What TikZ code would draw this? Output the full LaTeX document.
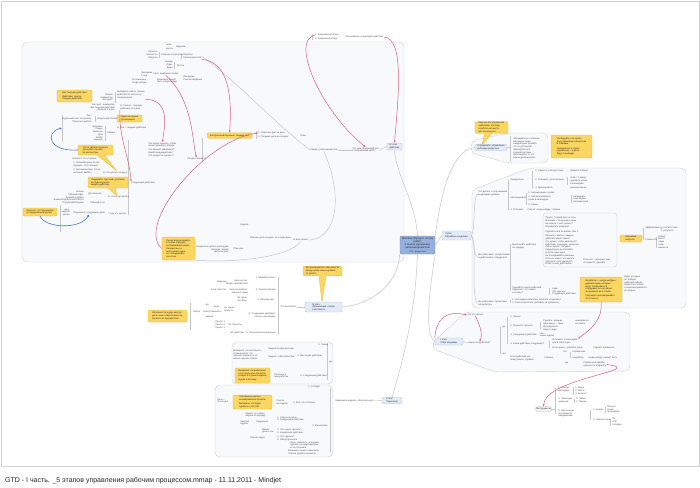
\documentclass[tikz,border=0pt]{standalone}
\usepackage{fontspec}
\setmainfont{Liberation Sans}
\usetikzlibrary{positioning, arrows.meta, shapes, shapes.callouts}
\definecolor{bndfill}{RGB}{248,249,251}
\definecolor{bnddraw}{RGB}{202,207,216}
\definecolor{notefill}{RGB}{251,214,96}
\definecolor{notedraw}{RGB}{232,182,62}
\definecolor{topicfill}{RGB}{226,235,247}
\definecolor{topicdraw}{RGB}{172,192,222}
\definecolor{ctrfill}{RGB}{150,176,222}
\definecolor{ctrdraw}{RGB}{108,136,190}
\definecolor{relred}{RGB}{214,96,124}
\definecolor{relblue}{RGB}{70,118,210}
\definecolor{linegray}{RGB}{198,198,198}
\definecolor{textgray}{RGB}{78,78,78}
\newcommand{\mm}{\fontsize{2.3}{2.75}\selectfont}
\pgfdeclarelayer{back}
\pgfsetlayers{back,main}

\begin{document}
\begin{tikzpicture}[x=1pt, y=-1pt,
  lbl/.style={font=\mm, text=textgray, inner sep=0.2pt, anchor=west, align=left},
  lblr/.style={lbl, anchor=east, align=right},
  callnote/.style={rectangle callout, draw=notedraw, fill=notefill, line width=0.3pt, rounded corners=1pt, font=\mm, text=black!85, align=left, inner sep=0.8pt},
  notebox/.style={rectangle, draw=notedraw, fill=notefill, line width=0.3pt, rounded corners=1pt, font=\mm, text=black!85, align=left, inner sep=0.8pt},
  topic/.style={rectangle, rounded corners=1.2pt, draw=topicdraw, fill=topicfill, line width=0.3pt, font=\mm, text=black!85, align=left, inner sep=0.6pt},
  ctrbox/.style={rectangle, rounded corners=1.5pt, draw=ctrdraw, fill=ctrfill, line width=0.4pt, font=\fontsize{2.6}{3}\selectfont, text=black!85, align=center, inner sep=0.8pt},
  bnd/.style={draw=bnddraw, fill=bndfill, line width=0.4pt, rounded corners=5pt},
  conn/.style={draw=linegray, line width=0.5pt},
  spine/.style={draw=linegray, line width=0.3pt},
  relr/.style={draw=relred, line width=0.5pt, -{Latex[length=2.2pt,width=2pt]}},
  relb/.style={draw=relblue, line width=0.6pt, -{Latex[length=2.4pt,width=2.2pt]}}]
\useasboundingbox (0,0) rectangle (700,487);
\begin{pgfonlayer}{back}
 \fill[white] (0,0) rectangle (700,487);
 \draw[black!18, line width=0.5pt] (1,1) rectangle (699,466);
 \draw[bnd] (22,42) rectangle (404,262);
 \draw[bnd] (471,141) -- (508,133) -- (548,133) -- (548,163) -- (508,163) -- (471,153) -- cycle;
 \draw[bnd] (472,190) -- (530,168) -- (686,168) -- (686,308) -- (472,308) -- cycle;
 \draw[bnd] (433,342) -- (466,312) -- (630,312) -- (630,371) -- (495,372) -- (433,349) -- cycle;
 \draw[bnd] (232,342) rectangle (333,384);
 \draw[bnd] (215,385) rectangle (333,457);
 \draw[spine, rounded corners=3pt] (543,213) rectangle (617,267);
\end{pgfonlayer}

\node[ctrbox, minimum width=35pt, minimum height=18pt] (ctr) at (417.5,245) {Workflow (Процесс потока\\работ)\\5 этапов управления\\рабочим процессом\\[0.6pt]{\fontsize{1.8}{2}\selectfont GTD – Дэвид Аллен}};

\node[lbl] (a1) at (166,45) {цели};
\node[lbl] (a2) at (166,48.5) {мечты};
\node[lbl] (a3) at (176,47) {Видение};
\node[lblr] (a4) at (158,55) {Проекты\\Контексты\\Ресурсы};
\node[lbl] (a5) at (161,55) {Списки по проектам};
\node[lbl] (a6) at (183,56.5) {Проекты\\Списки проектов};
\node[lblr] (a7) at (173,65) {Звонки\\Офис\\Дома};
\node[lbl] (a8) at (177,66) {Места};
\node[lbl] (a9) at (141,74.5) {Ожидание\\1 нед.};
\node[lbl] (a10) at (153,74) {Срок: ожидание ответа};
\node[lbl] (a11) at (183,78.5) {Ожидание\\Список ожидания};
\node[lbl] (a12) at (132,81.5) {Отложенные\\Когда-нибудь};
\node[lbl] (a13) at (157,81) {Возможно, может\\быть когда-нибудь};
\node[notebox, minimum width=35pt, minimum height=12pt] (n1) at (74.5,96) {Все текущие действия\\[1pt]Действия: список\\текущих действий};
\node[lblr] (a14) at (113,97.5) {Звонки\\Компьютер\\Интернет};
\node[lbl] (a15) at (117,95) {Выберите список: звонки,\\действия по контексту,\\текущие дела};
\node[lblr] (a16) at (115,107.5) {Контекст: компьютер\\Все текущие действия\\Дела на 1-2 дня};
\node[lbl] (a17) at (120,107.5) {Б. Список – текущие\\действия (1-2 дня)};
\node[notebox, minimum width=25pt, minimum height=7pt] (n2) at (129.5,118.5) {Здесь не нужна\\детализация};
\node[lblr] (a18) at (92,119) {Лист\\Отдельный лист по проекту\\Проекты в работе};
\node[lbl] (a19) at (97,119) {Отдельный список};
\node[lblr] (a20) at (103,133.5) {Здоровье\\Семья\\Финансы\\Дом\\Хобби\\Карьера};
\node[lbl] (a21) at (107,133) {Сферы};
\node[lbl] (a22) at (117,128) {В. Всё – текущие действия};
\node[callnote, callout absolute pointer={(117,171)}, minimum width=35pt, minimum height=10pt] (n3) at (95.5,150) {Часто удобнее держать\\несколько списков\\по контекстам};
\node[lbl] (a23) at (72,159) {Контекст: по ситуации};
\node[lbl] (a24) at (73,164.5) {1. Звонки/встречи после\\поездки – 8-10 звонков};
\node[lbl] (a25) at (73,171.5) {2. На компьютере: почта,\\интернет, файлы};
\node[lbl] (a26) at (103,173) {В. Что делать сегодня};
\node[callnote, callout absolute pointer={(117,196)}, minimum width=40pt, minimum height=11pt] (n4) at (108,182.5) {Подумайте, при каких условиях\\вы будете делать\\каждое действие};
\node[lblr] (a27) at (84,197.5) {Звонки\\Рабочий офис\\Дома/вне офиса\\Компьютер/Интернет/Почта\\Поручения/Покупки};
\node[lbl] (a28) at (88,194) {Для звонков};
\node[lbl] (a29) at (90,203) {Рабочий стол};
\node[lbl] (a30) at (108,197) {Б. Что и где делать};
\node[lbl] (a31) at (108,214) {Г. Где что делать};
\node[notebox, minimum width=34pt, minimum height=8pt] (n5) at (40,212) {Контекст: по поручениям\\и определённым делам};
\node[lblr] (a32) at (70,212.5) {день\\неделя\\месяц};
\node[lbl] (a33) at (73,213) {Поручения: следующие дела};
\node[lbl] (a34) at (131,183) {Следующие действия};
\node[lbl] (a35) at (148,145) {Что нужно сделать, чтобы\\проект двигался вперёд};
\node[lbl] (a36) at (148,153) {Что мешает завершить?\\Какой следующий шаг?\\Что конкретно сделать?};
\node[lbl] (a37) at (187,159) {Ресурсы проекта};
\node[lbl] (a38) at (310,150) {Рядом с рабочим местом};
\node[lbl] (a39) at (352,150) {Что ваш следующий шаг\\в направлении цели?};
\node[topic, minimum width=15pt, minimum height=7pt] (iv) at (394.5,146.5) {IV этап\\действия};
\node[lbl] (a40) at (240,225) {Неделя};
\node[lbl] (a41) at (250,238) {Важные дела на день: не в один день};
\node[lbl] (a42) at (293,240) {В. Без сроков};
\node[lbl] (a43) at (233,249) {План дня};
\node[lblr] (a44) at (229,249.5) {Конкретные дела в календаре\\Встречи, звонки\\Дела на день};
\node[notebox, minimum width=33pt, minimum height=23pt] (n6) at (178.5,248.5) {Лучше всегда держать\\в голове пару дел\\на ближайшее время.\\Неприятные и\\неотложные дела\\не откладывайте\\на потом};
\node[notebox, minimum width=45pt, minimum height=5.5pt] (n7) at (229.5,135.5) {Контрольный перечень текущих дел};
\node[lbl] (a45) at (258,133) {1. Перечень дел на день};
\node[lbl] (a46) at (258,137) {2. Текущие дела на сегодня};
\node[lbl] (a47) at (300,136) {План};
\node[lbl] (a48) at (315,35) {1. Ежедневный обзор};
\node[lbl] (a49) at (315,39) {2. Недельный обзор};
\node[lbl] (a50) at (345,37) {Как выбирать следующие действия};

\node[callnote, callout absolute pointer={(482,145)}, minimum width=33pt, minimum height=11pt] (r1) at (491.5,127.5) {Обычно это управление\\«работой», поэтому\\в работе нет места\\для личных дел};
\node[topic, minimum width=32pt, minimum height=6pt] (opr) at (491,147.5) {Определите: управление\\рабочим процессом};
\node[lbl] (r2) at (513,148.5) {Обращайтесь к спискам\\как можно чаще\\Каждый день делайте\\что-то для целей\\Фиксируйте всё\\в одной системе\\Делегируйте то, что\\можно делегировать};
\node[notebox, minimum width=41pt, minimum height=23pt] (r3) at (571.5,146.5) {Исследуйте, что нужно\\для управления процессом\\и планами.\\[1.5pt]Определите 5 этапов\\управления – и дела\\будут в порядке};
\node[topic, minimum width=29pt, minimum height=9pt] (ii) at (456.5,235.5) {II этап\\Обработка входящих};
\node[lbl] (r4) at (478,193.5) {Что делать с полученными\\входящими делами};
\node[lbl] (r5) at (510,180) {Немедленно};
\node[lbl] (r6) at (535,171) {1. Сделать, если до 2 мин};
\node[lbl] (r7) at (570,171) {правило 2 минут};
\node[lbl] (r8) at (535,180) {2. Отложить, если больше};
\node[lbl] (r9) at (570,181) {если > 2 минут\\сделайте позже\\в календаре};
\node[lbl] (r10) at (535,188) {3. Делегировать};
\node[lbl] (r11) at (570,188.5) {делегирование};
\node[lbl] (r12) at (510,198) {Запланировать};
\node[lbl] (r13) at (528,193) {1. Напоминание о сроке};
\node[lbl] (r14) at (528,198.5) {2. Запланированные\\сроки в календаре};
\node[lbl] (r15) at (528,205) {3. Сроки};
\node[lbl] (r16) at (573,199) {Календарь\\Список дел\\Напоминания};
\node[lbl] (r17) at (510,210) {4. Отложить};
\node[lbl] (r18) at (527,210) {Список: когда-нибудь, справка};
\node[lbl] (r19) at (545,222.5) {Проект: первый шаг не ясен\\Все шаги – по одному в день\\Не знаете, с чего начать?\\Определите результат};
\node[lbl] (r20) at (545,232) {Сделайте шаг за шагом: Шаг 1};
\node[lbl] (r21) at (545,246) {Начните с малого: каждое\\действие имеет смысл\\Что нужно, чтобы двигаться?\\Действие: позвонить, написать,\\найти, купить, обсудить\\Каждый день выполняйте\\хотя бы одно дело\\Не откладывайте решение};
\node[lbl] (r22) at (545,261.5) {Если не знаете, что делать,\\спросите: «что дальше?»\\Ответ станет действием};
\node[lbl] (r23) at (583,261.5) {Если нет – решение ещё\\не принято, думайте};
\node[lbl] (r24) at (512,246.5) {Выполняйте действия\\по порядку};
\node[lbl] (r25) at (478,256.5) {Мы работаем с результатами\\и действиями: определите};
\node[notebox, minimum width=22pt, minimum height=7pt] (r26) at (631,238.5) {Ключевые\\вопросы};
\node[lbl] (r27) at (645,228) {Эффективность};
\node[lbl] (r28) at (645,240) {Сложность};
\node[lbl] (r29) at (663,229.5) {соответствие\\результат};
\node[lbl] (r30) at (658,242) {время\\место\\люди\\силы\\важность};
\node[lbl] (r31) at (512,290) {Сделайте список действий.\\Результат: что значит\\«готово»?};
\node[lbl] (r32) at (552,291.5) {Куда\\Это сделать\\Следующее действие};
\node[notebox, minimum width=42pt, minimum height=25pt] (r33) at (601,289.5) {Инкубатор – «когда-нибудь»:\\держите идеи, которые\\могут понадобиться\\в будущем, но не сейчас.\\Не держите их в голове.\\[1pt]Регулярно просматривайте\\этот список};
\node[lbl] (r34) at (624,284) {Идеи, которые\\не требуют\\действий сейчас,\\хранятся в списке\\и пересматриваются\\регулярно};
\node[lbl] (r35) at (478,303.5) {Мы работаем с проектами:\\«Инкубатор»};
\node[lbl] (r36) at (512,301.5) {1. Последнее действие: отметьте «Сделано»\\2. Список проектов: добавьте «в процессе»};

\node[topic, minimum width=28pt, minimum height=7pt] (inode) at (449,341.5) {I этап\\Сбор входящих};
\node[lbl] (c1) at (467,315) {Что это такое?};
\node[lbl] (c2) at (468,343) {Нужно ли действие?};
\node[lbl] (c3) at (502,327) {да};
\node[lbl] (c4) at (510,317) {1. Проект};
\node[lbl] (c5) at (510,326) {2. Результат проекта};
\node[lbl] (c6) at (510,335) {3. Следующее действие};
\node[lbl] (c7) at (543,322.5) {Сделать: меньше\\двух минут – сразу};
\node[lbl] (c8) at (543,328.5) {Делегировать:\\кому-то ещё};
\node[lbl] (c9) at (575,322.5) {немедленно\\отложить};
\node[lbl] (c10) at (540,335) {Вы –\\ваша задача};
\node[lbl] (c11) at (510,344) {4. Какое действие следующее?};
\node[lbl] (c12) at (552,341.5) {Отложите: в календарь\\или в список дел};
\node[lbl] (c13) at (552,347.5) {Если нужно – делайте сразу};
\node[lbl] (c14) at (593,347.5) {Сделать правильно};
\node[lbl] (c15) at (502,354) {нет};
\node[lbl] (c16) at (510,358.5) {Если действий нет:\\неактуально, справка};
\node[lbl] (c17) at (544,358) {Корзина};
\node[lbl] (c18) at (563,352) {нет};
\node[lbl] (c19) at (572,352) {Справочная};
\node[lbl] (c20) at (572,357.5) {Инкубатор};
\node[lbl] (c21) at (588,357.5) {Когда-нибудь / может быть};
\node[lbl] (c22) at (565,363) {да};
\node[lbl] (c23) at (583,364.5) {Справочные файлы:\\храните по алфавиту};
\node[topic, fill=black!4, draw=black!28, minimum width=13pt, minimum height=4.5pt] (instr) at (543.5,409) {Инструменты};
\node[lbl] (d1) at (558,389.5) {1. Списки\\календарь};
\node[lbl] (d2) at (575,390.5) {1. Ящик\\2. Листы\\3. Блокнот};
\node[lbl] (d3) at (558,400.5) {2. Папки для\\хранения};
\node[lbl] (d4) at (576,400.5) {1. Папки\\2. Ящики};
\node[lbl] (d5) at (558,413.5) {3. Настольные\\инструменты,\\ежедневники};
\node[lbl] (d6) at (593,410) {1. Бумага};
\node[lbl] (d7) at (607,409.5) {блокнот\\ручка\\органайзер};
\node[lbl] (d8) at (593,420) {2. Электронные};
\node[lbl] (d9) at (612,422) {ПК\\КПК\\телефон};

\node[callnote, callout absolute pointer={(322,302)}, minimum width=39pt, minimum height=8pt] (e1) at (322.5,271) {Как распределить обязанности\\между проектами и делами\\по работе};
\node[topic, minimum width=37pt, minimum height=10pt] (iii) at (323.5,307) {III этап\\Организация: списки\\и контексты};
\node[lbl] (e2) at (280,307) {Что выполнить};
\node[lblr] (e3) at (276,278) {1. Общий контекст};
\node[lblr] (e4) at (276,290) {2. Уровень обзора};
\node[lblr] (e5) at (274,300) {3. Обсуждение};
\node[lblr] (e6) at (276,315.5) {4. Следующие действия:\\список и календарь};
\node[lblr] (e7) at (276,333) {5. Окончательное решение};
\node[lblr] (e8) at (248,282.5) {Цели на год:\\общие направления};
\node[lblr] (e9) at (248,291.5) {Цели на квартал:\\задачи и сроки};
\node[lblr] (e10) at (227,282) {Видение};
\node[lblr] (e11) at (227,290) {Зона ответств.};
\node[lbl] (e12) at (237,299.5) {3d. Цели\\на обзор};
\node[lbl] (e13) at (193,312) {Обзор};
\node[lbl] (e14) at (205,305) {год};
\node[lbl] (e15) at (213,307) {Цели};
\node[lbl] (e16) at (203,312) {Ответственность};
\node[lbl] (e17) at (224,309.5) {2a. Цели\\проекта};
\node[lbl] (e18) at (205,317) {Задачи};
\node[lbl] (e19) at (215,325) {Проект 1\\Проект 2\\Проект 3};
\node[lbl] (e20) at (228,325) {3d. Проекты};
\node[lbl] (e21) at (230,333) {4d. Действия};
\node[notebox, minimum width=39pt, minimum height=12pt] (e22) at (167.5,316) {Обязанности в двух местах:\\цели, зоны ответственности,\\проекты по приоритетам};

\node[lbl] (f1) at (318,345) {1. Планы};
\node[lbl] (f2) at (233,355) {Выберите, что выполнить,\\затем решите, что\\сделать сначала, и что\\можно сделать сейчас};
\node[lbl] (f3) at (268,349) {Задачи по приоритетам};
\node[lbl] (f4) at (268,357) {Задачи – обязательства};
\node[lbl] (f5) at (297,356) {2. Места для действий};
\node[lbl] (f6) at (329,362) {да};
\node[notebox, minimum width=35pt, minimum height=15pt] (f7) at (252.5,375.5) {Внимание: планирование\\и контроль всех проектов\\и задач 1-2 раза в неделю\\[1pt]Лучше в пятницу};
\node[lbl] (f8) at (274,376) {По плану и\\приоритетам};
\node[lbl] (f9) at (300,376) {3. Следующие действия};

\node[lbl] (g1) at (308,387) {1. Сегодня};
\node[notebox, minimum width=39pt, minimum height=14pt] (g2) at (252.5,402) {Отложенные дела и\\незавершённые проекты\\[1pt]Выберите, что будет\\сделано в этот раз};
\node[lbl] (g3) at (276,402.5) {Список\\на неделю};
\node[lbl] (g4) at (293,403) {2. Всё, что осталось};
\node[lbl] (g5) at (217,401) {Цель –\\после дня};
\node[lbl] (g6) at (245,415) {Проект: по списку\\Задачи по порядку};
\node[lbl] (g7) at (240,423) {Занятия\\задачи};
\node[lbl] (g8) at (256,422) {Ежедневно};
\node[lbl] (g9) at (277,419) {1. Список на день\\2. Следующее действие};
\node[lbl] (g10) at (312,426) {3. Физические};
\node[lbl] (g11) at (262,431) {Время\\день и час};
\node[lbl] (g12) at (277,431.5) {1. Что нужно сделать?\\2. Конкретное действие};
\node[lbl] (g13) at (250,438) {Анализ задач};
\node[lbl] (g14) at (277,438.5) {1. Что сделать?\\2. Обзор проектов};
\node[lbl] (g15) at (290,445) {Цель: наметить, что нужно\\сделать в следующий раз\\и что отложить};
\node[lbl] (g16) at (288,452.5) {Возможно, нужен пересмотр\\планов, целей и проектов};
\node[lbl] (g17) at (335,401) {Завершите неделю: обзор всех дел};
\node[topic, minimum width=20pt, minimum height=6pt] (vnode) at (392,400.5) {V этап\\Пересмотр};

\node[anchor=west, font=\fontsize{7}{8}\selectfont, text=black!85, inner sep=0pt] (footer) at (5,481) {GTD - I часть. \_5 этапов управления рабочим процессом.mmap - 11.11.2011 - Mindjet};

\begin{pgfonlayer}{back}
 \draw[conn] (ctr.north) .. controls (415,200) and (396,175) .. (iv.south);
 \draw[conn] (ctr.north east) .. controls (440,200) and (450,150) .. (opr.west);
 \draw[conn] (ctr.east) -- (ii.west);
 \draw[conn] (ctr.south east) .. controls (428,300) and (425,335) .. (inode.west);
 \draw[conn] (ctr.south) .. controls (415,320) and (400,370) .. (vnode.north);
 \draw[conn] (ctr.south west) .. controls (398,285) and (370,305) .. (iii.east);
 \draw[conn] (iv.west) -- (a39.east);
 \draw[conn] (a39.west) -- (a38.east);
 \draw[conn] (a38.west) .. controls (280,128) and (230,75) .. (a6.east);
 \draw[conn] (a38.south) .. controls (345,200) and (335,240) .. (a42.east);
 \draw[conn] (a42.south) .. controls (290,258) and (230,263) .. (n6.south east);
 \draw[conn] (ii.east) .. controls (476,232) and (472,196) .. (r4.west);
 \draw[conn] (ii.east) .. controls (476,240) and (472,256) .. (r25.west);
 \draw[conn] (ii.east) .. controls (478,245) and (470,300) .. (r35.west);
 \draw[conn] (iii.west) -- (e2.east);
 \draw[conn] (vnode.west) -- (g17.east);
 \draw[conn] (inode.east) -- (c2.west);
 \draw[conn] (opr.east) -- (510.5,147.5);
 \draw[conn] (instr.east) -- (555.5,409);
 \foreach \sx/\sa/\sb in {62/115/142, 60/205/232, 128/140/215, 202.5/138/162, 256/131/139, 312.5/34/40,
   159.5/52/58, 174/62/69, 181/54/59, 115.5/92/103, 95/116/122, 105/126/141,
   510.5/136/161, 508/180/210, 532.5/171/188, 526/193/205, 567.5/177/185, 571/195/203,
   510/244/291, 510/300/303, 549.5/288/295, 643.5/228/240, 661/228/231, 656/236.5/247.5,
   500/327/354, 507.5/317/344, 540.5/322/329, 549.5/341/348, 570/352/358,
   555.5/388/414, 573/387/395, 574/398.5/402.5, 590.5/410/420, 605/406.5/412.5, 610/418.5/425.5,
   190/303/330, 278/277/335, 327/343/380, 330.5/388/452}
   \draw[spine] (\sx,\sa) -- (\sx,\sb);
\end{pgfonlayer}

\coordinate (bk1) at (62,128);
\draw[relr] (a6.south east) .. controls (230,62) and (232,100) .. (n7.north);
\draw[relr] (n6.west) .. controls (135,225) and (205,140) .. (a45.west);
\draw[relr] (a48.west) .. controls (290,40) and (320,110) .. (a39.north);
\draw[relr] (a50.east) .. controls (405,38) and (398,100) .. (iv.north);
\draw[relr] (a17.south west) .. controls (118,135) and (130,160) .. (a34.north west);
\draw[relr] (a15.south east) .. controls (170,100) and (165,125) .. (a35.north);
\draw[relr] (a10.south) .. controls (193,100) and (192,140) .. (a37.north);
\draw[relr] (r33.south) .. controls (603,320) and (590,330) .. (c12.north east);
\draw[relr] (c23.east) .. controls (650,370) and (545,378) .. (instr.north);
\draw[relr] (inode.north west) .. controls (436,320) and (445,310) .. (c1.west);
\draw[relr] (c1.south) .. controls (480,325) and (483,335) .. (c2.north);
\draw[relb] (n3.west) .. controls (48,152) and (45,132) .. (bk1);
\draw[relb] (n5.south) .. controls (45,228) and (80,230) .. (a33.south);
\end{tikzpicture}
\end{document}
